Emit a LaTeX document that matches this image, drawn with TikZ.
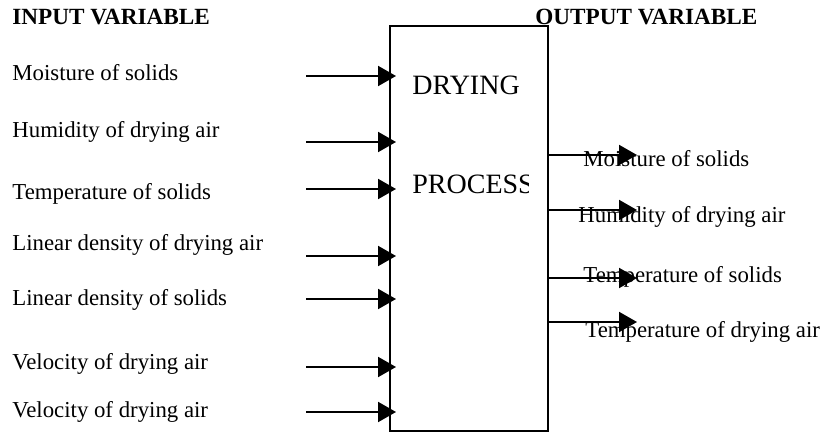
\documentclass[tikz,border=0pt]{standalone}
\usepackage{fontspec}
\setmainfont{Liberation Serif}
\usepackage{tikz}
\usetikzlibrary{arrows.meta, positioning, calc}

\tikzset{
    lbl/.style={anchor=base west, inner sep=0pt, font=\fontsize{11.4}{13}\selectfont},
    hdr/.style={anchor=base west, inner sep=0pt, font=\fontsize{11.6}{13}\selectfont\bfseries},
    big/.style={anchor=base west, inner sep=0pt, font=\fontsize{14}{16}\selectfont},
    procbox/.style={draw, line width=1pt, minimum width=79pt, minimum height=202.5pt, inner sep=0pt},
    arr/.style={line width=1pt, -{Triangle[length=9pt, width=10pt]}}
}

\begin{document}
\begin{tikzpicture}[x=0.5pt, y=-0.5pt]
    \useasboundingbox[fill=white] (0,0) rectangle (826,434);

    % 标题
    \node[hdr] (inhdr) at (12,24) {INPUT VARIABLE};
    \node[hdr] (outhdr) at (535,24) {OUTPUT VARIABLE};

    % 过程框
    \node[procbox] (proc) at (469,228.5) {};
    \node[big] (dry) at (412,94) {DRYING};
    \begin{scope}
        \clip (392,150) rectangle (528,215);
        \node[big] (proc2) at (412,193) {PROCESS};
    \end{scope}

    % 输入变量
    \foreach \i/\yl/\ya/\txt in {1/80/76/{Moisture of solids},
                                 2/137/142/{Humidity of drying air},
                                 3/199/189/{Temperature of solids},
                                 4/250/256/{Linear density of drying air},
                                 5/305/299/{Linear density of solids},
                                 6/369/367/{Velocity of drying air},
                                 7/417/412/{Velocity of drying air}} {
        \node[lbl] (in\i) at (12,\yl) {\txt};
        \coordinate (s\i) at (306,\ya);
        \draw[arr, shorten >=-3.5pt] (s\i) -- (s\i -| proc.west);
    }

    % 输出变量
    \foreach \i/\yl/\ya/\xl/\txt in {1/166/155/583/{Moisture of solids},
                                     2/222/210/578/{Humidity of drying air},
                                     3/282/278/583/{Temperature of solids},
                                     4/337/322/585/{Temperature of drying air}} {
        \node[lbl] (out\i) at (\xl,\yl) {\txt};
        \coordinate (e\i) at (637,\ya);
        \draw[arr] (e\i -| proc.east) -- (e\i);
    }
\end{tikzpicture}
\end{document}
